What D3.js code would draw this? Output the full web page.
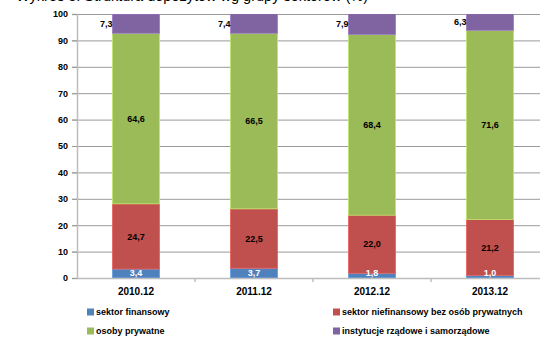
<!DOCTYPE html>
<html><head><meta charset="utf-8">
<script src="https://cdn.jsdelivr.net/npm/d3@7"></script>
<style>
html,body{margin:0;padding:0;background:#fff;}
svg{display:block;font-family:"Liberation Sans",Arial,sans-serif;}
</style></head>
<body>
<script>
const categories = ["2010.12","2011.12","2012.12","2013.12"];
const seriesNames = ["sektor finansowy","sektor niefinansowy bez osób prywatnych","osoby prywatne","instytucje rządowe i samorządowe"];
const finansowy = [3.4, 3.7, 1.8, 1.0];
const niefinansowy = [24.7, 22.5, 22.0, 21.2];
const prywatne = [64.6, 66.5, 68.4, 71.6];
const rzadowe = [7.3, 7.4, 7.9, 6.3];
const yTicks = [0,10,20,30,40,50,60,70,80,90,100];
const colors = ["#4f81bd","#c0504d","#9bbb59","#8064a2"];
const titleText = "Wykres 3. Struktura depozytów wg grupy sektorów (%)";

const W = 540, H = 338;
const svg = d3.select("body").append("svg").attr("width", W).attr("height", H);

const x0 = 77, x1 = 549, yTop = 14, yBot = 278;
const x = d3.scaleBand().domain(categories).range([x0, x1]).paddingInner(0.6).paddingOuter(0.3);
const band = d3.scaleBand().domain(categories).range([x0, x1]);
const y = d3.scaleLinear().domain([0,100]).range([yBot, yTop]);

// title (mostly cropped at top, as in the reference)
svg.append("text").attr("x", 16).attr("y", 0.5).attr("font-size", 14.5)
  .attr("font-family", "Liberation Sans, Arial").attr("fill", "#000").text(titleText);

// gridlines
svg.append("g").selectAll("line").data(yTicks.filter(d => d > 0)).join("line")
  .attr("x1", x0 - 5).attr("x2", W).attr("y1", d => y(d) + 0.5).attr("y2", d => y(d) + 0.5)
  .attr("stroke", "#9a9a9a").attr("stroke-width", 1);

// y axis
const yAxis = svg.append("g").attr("transform", `translate(${x0},0)`)
  .call(d3.axisLeft(y).tickValues(yTicks).tickSize(5).tickPadding(4).tickFormat(d3.format("d")));
yAxis.select(".domain").attr("stroke", "#bdbdbd").attr("stroke-width", 1.5);
yAxis.selectAll(".tick line").attr("stroke", "#9a9a9a");
yAxis.selectAll("text").attr("font-size", 9).attr("font-weight", "bold").attr("fill", "#000")
  .attr("font-family", "Liberation Sans, Arial");

// stacked data
const rows = categories.map((c, i) => ({cat: c, s0: finansowy[i], s1: niefinansowy[i], s2: prywatne[i], s3: rzadowe[i]}));
const stack = d3.stack().keys(["s0","s1","s2","s3"])(rows);

svg.append("clipPath").attr("id", "pc").append("rect")
  .attr("x", x0).attr("y", yTop).attr("width", W - x0).attr("height", yBot - yTop);

const gBars = svg.append("g").attr("clip-path", "url(#pc)");
stack.forEach((layer, li) => {
  gBars.selectAll(null).data(layer).join("rect")
    .attr("x", d => x(d.data.cat))
    .attr("width", x.bandwidth())
    .attr("y", d => y(d[1]))
    .attr("height", d => y(d[0]) - y(d[1]))
    .attr("fill", colors[li])
    .attr("stroke", d3.color(colors[li]).brighter(0.6))
    .attr("stroke-width", 0.8);
});

// x axis
const xAxis = svg.append("g").attr("transform", `translate(0,${yBot})`)
  .call(d3.axisBottom(band).tickSize(0).tickPadding(10));
xAxis.select(".domain").attr("stroke", "#bdbdbd").attr("stroke-width", 1.5);
xAxis.selectAll("text").attr("font-size", 10).attr("font-weight", "bold").attr("fill", "#000")
  .attr("font-family", "Liberation Sans, Arial");
svg.append("g").selectAll("line").data(categories.slice(1)).join("line")
  .attr("x1", d => band(d)).attr("x2", d => band(d))
  .attr("y1", yBot).attr("y2", yBot + 4).attr("stroke", "#bdbdbd").attr("stroke-width", 1.5);

// labels
const fmt = v => d3.format(".1f")(v).replace(".", ",");
const gl = svg.append("g").attr("font-size", 9).attr("font-weight", "bold")
  .attr("font-family", "Liberation Sans, Arial");
stack.forEach((layer, li) => {
  layer.forEach(d => {
    const v = d.data["s" + li];
    const top = Math.min(d[1], 100);
    const cy = (y(d[0]) + y(top)) / 2;
    let tx, anchor = "middle", fill = "#000", ty = cy;
    if (li === 0) { tx = x(d.data.cat) + x.bandwidth() / 2; fill = "#fff"; ty = Math.min(cy, yBot - 5); }
    else if (li === 3) { tx = x(d.data.cat); anchor = "end"; }
    else { tx = x(d.data.cat) + x.bandwidth() / 2; }
    gl.append("text").attr("x", tx).attr("y", ty).attr("dy", "0.35em")
      .attr("text-anchor", anchor).attr("fill", fill).text(fmt(v));
  });
});

// legend
const legPos = [[90,312],[336,312],[90,331],[336,331]];
const lg = svg.append("g").attr("font-size", 9).attr("font-weight", "bold")
  .attr("font-family", "Liberation Sans, Arial");
seriesNames.forEach((n, i) => {
  const [lx, ly] = legPos[i];
  lg.append("rect").attr("x", lx - 3).attr("y", ly - 3.5).attr("width", 7).attr("height", 7).attr("fill", colors[i]);
  lg.append("text").attr("x", lx + 6).attr("y", ly).attr("dy", "0.35em").attr("fill", "#000").text(n);
});
</script>
</body></html>
